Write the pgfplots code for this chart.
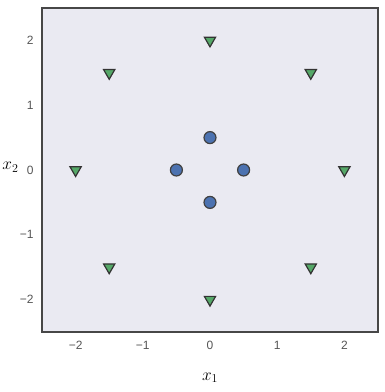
\documentclass[border=0pt]{standalone}
\usepackage{fontspec}
\setmainfont{Liberation Sans}
\usepackage{pgfplots}
\pgfplotsset{compat=1.18}
\definecolor{bgc}{HTML}{EAEAF2}
\definecolor{sblue}{HTML}{4C72B0}
\definecolor{sgreen}{HTML}{55A868}
\definecolor{tickc}{HTML}{555555}
\begin{document}
\begin{tikzpicture}
\path[use as bounding box] (-42pt,-60pt) rectangle (342pt,332pt);
\begin{axis}[
  at={(0pt,0pt)}, anchor=south west,
  scale only axis,
  width=336pt, height=324pt,
  xmin=-2.5, xmax=2.5, ymin=-2.5, ymax=2.5,
  axis background/.style={fill=bgc},
  axis line style={draw=black!72, line width=1.6pt},
  xtick={-2,-1,0,1,2}, ytick={-2,-1,0,1,2},
  xticklabels={−2,−1,0,1,2}, yticklabels={−2,−1,0,1,2},
  major tick length=0pt,
  tick label style={font=\fontsize{12}{13}\selectfont, text=tickc},
  xticklabel style={yshift=-6pt},
  yticklabel style={xshift=-5pt},
  xlabel={$x_1$}, ylabel={$x_2$},
  label style={font=\fontsize{18}{20}\selectfont},
  ylabel style={rotate=-90, at={(axis description cs:0,0.5)}, anchor=east, xshift=-20pt, yshift=3pt},
  xlabel style={yshift=-16pt},
]
\addplot[only marks, mark=*, mark size=6pt, mark options={fill=sblue, draw=black!75, line width=1.2pt}]
 coordinates {(0,0.5) (0,-0.5) (-0.5,0) (0.5,0)};
\addplot[only marks, mark=triangle*, mark size=6.5pt, mark options={rotate=180, fill=sgreen, draw=black!80, line width=1.2pt}]
 coordinates {(0,2) (-1.5,1.5) (1.5,1.5) (-2,0) (2,0) (-1.5,-1.5) (1.5,-1.5) (0,-2)};
\end{axis}
\end{tikzpicture}
\end{document}
